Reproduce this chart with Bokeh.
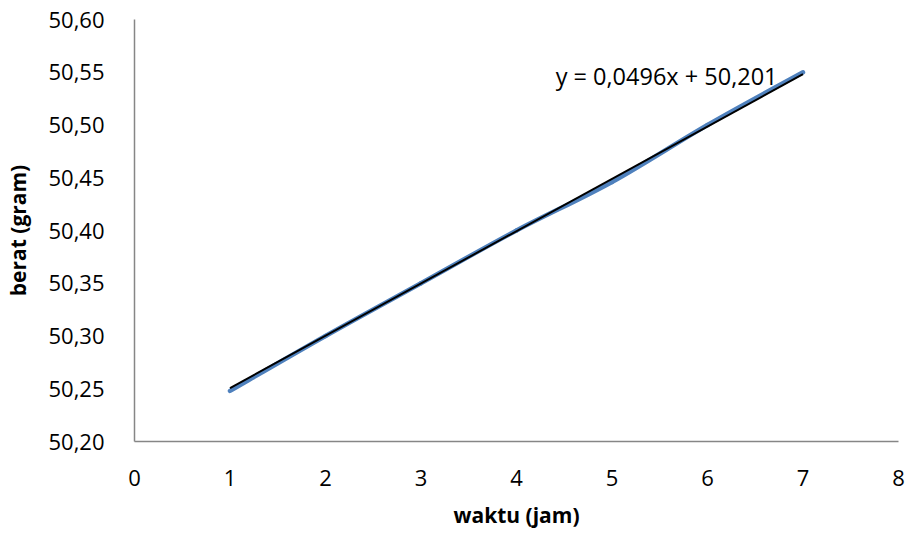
from bokeh.plotting import figure
from bokeh.models import Range1d, FixedTicker, Label
from bokeh.embed import file_html
from bokeh.resources import INLINE

# Data
waktu = [1, 2, 3, 4, 5, 6, 7]
berat = [50.248, 50.300, 50.350, 50.400, 50.446, 50.500, 50.550]
slope = 0.0496
intercept = 50.201
x_ticks = [0, 1, 2, 3, 4, 5, 6, 7, 8]
y_ticks = [50.20, 50.25, 50.30, 50.35, 50.40, 50.45, 50.50, 50.55, 50.60]
y_tick_labels = ["50,20", "50,25", "50,30", "50,35", "50,40", "50,45", "50,50", "50,55", "50,60"]
equation = "y = 0,0496x + 50,201"

FONT = "Open Sans"

p = figure(width=910, height=533, output_backend="svg", toolbar_location=None,
           x_range=Range1d(0, 8), y_range=Range1d(50.20, 50.60),
           min_border_left=134, min_border_right=12, min_border_top=19, min_border_bottom=92)
p.outline_line_color = None
p.grid.visible = False
p.background_fill_color = "white"
p.border_fill_color = "white"

# Smoothed series (Excel-like Bezier smoothing from the data points)
n = len(waktu)
x0, y0, x1, y1, cx0, cy0, cx1, cy1 = [], [], [], [], [], [], [], []
for i in range(n - 1):
    pm = i - 1 if i > 0 else i
    pp = i + 2 if i + 2 < n else i + 1
    x0.append(waktu[i]); y0.append(berat[i])
    x1.append(waktu[i + 1]); y1.append(berat[i + 1])
    cx0.append(waktu[i] + (waktu[i + 1] - waktu[pm]) / 6)
    cy0.append(berat[i] + (berat[i + 1] - berat[pm]) / 6)
    cx1.append(waktu[i + 1] - (waktu[pp] - waktu[i]) / 6)
    cy1.append(berat[i + 1] - (berat[pp] - berat[i]) / 6)
p.bezier(x0=x0, y0=y0, x1=x1, y1=y1, cx0=cx0, cy0=cy0, cx1=cx1, cy1=cy1,
         line_color="#4F81BD", line_width=4.5, line_cap="round")

# Linear trendline
tx = [waktu[0], waktu[-1]]
ty = [slope * v + intercept for v in tx]
p.line(tx, ty, line_color="black", line_width=2)

p.add_layout(Label(x=4.41, y=50.546, text=equation, text_font=FONT, text_font_size="23.5px",
                   text_color="black", text_baseline="middle", text_align="left"))

# Axes
for ax in (p.xaxis[0], p.yaxis[0]):
    ax.axis_line_color = "#868686"
    ax.axis_line_width = 1.5
    ax.major_tick_line_color = None
    ax.minor_tick_line_color = None
    ax.major_label_text_font = FONT
    ax.major_label_text_font_size = "22px"
    ax.major_label_text_color = "black"
    ax.axis_label_text_font = FONT
    ax.axis_label_text_font_size = "21px"
    ax.axis_label_text_font_style = "bold"
    ax.axis_label_text_color = "black"

p.xaxis.ticker = FixedTicker(ticks=x_ticks)
p.yaxis.ticker = FixedTicker(ticks=y_ticks)
p.yaxis.major_label_overrides = {t: l for t, l in zip(y_ticks, y_tick_labels)}
p.xaxis.major_label_standoff = 22
p.yaxis.major_label_standoff = 24
p.xaxis.axis_label = "waktu (jam)"
p.yaxis.axis_label = "berat (gram)"
p.xaxis.axis_label_standoff = 12
p.yaxis.axis_label_standoff = 13

open("out.html", "w").write(file_html(p, INLINE))
